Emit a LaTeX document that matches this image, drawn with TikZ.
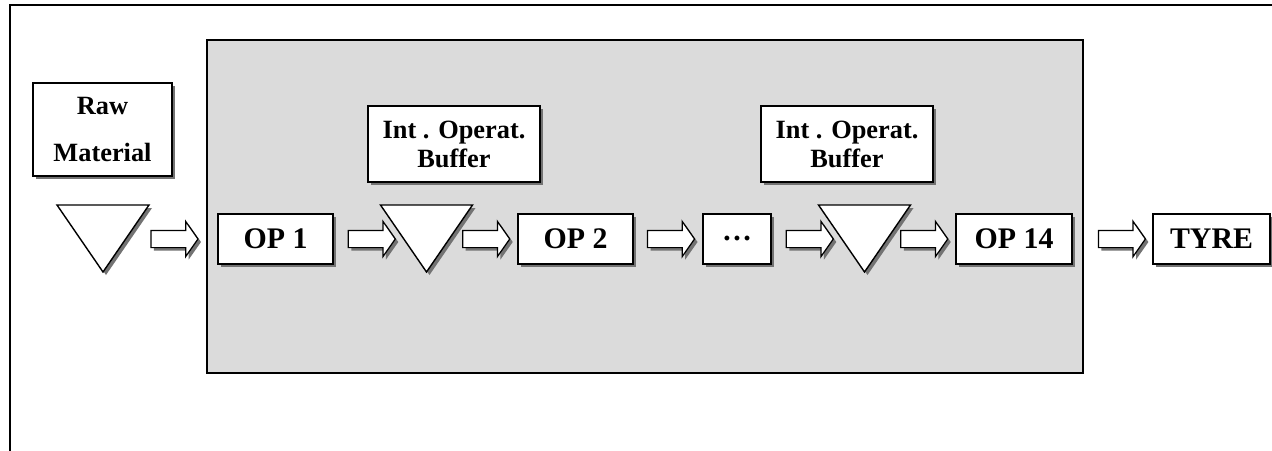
\documentclass[tikz,border=0pt]{standalone}
\usepackage{fontspec}
\setmainfont{Liberation Serif}
\usetikzlibrary{shapes.arrows}
\usetikzlibrary{shadows}

\tikzset{
  dshadow/.style={drop shadow={shadow xshift=0.06cm,shadow yshift=-0.06cm,fill=black!55,opacity=1}},
  opbox/.style={draw,fill=white,line width=0.8pt,minimum height=1cm,inner sep=0pt,font=\fontsize{17}{19}\selectfont\bfseries,dshadow},
  tagbox/.style={draw,fill=white,line width=0.8pt,align=center,inner sep=0pt,font=\fontsize{15}{16.5}\selectfont\bfseries,dshadow},
  buftri/.style={draw,fill=white,line width=0.8pt,line join=miter,dshadow},
  flow/.style={single arrow,draw,fill=white,line width=0.7pt,minimum height=0.94cm,inner xsep=0pt,inner ysep=0.16cm,
    single arrow head extend=0.18cm,single arrow tip angle=110,dshadow}
}

\begin{document}
\begin{tikzpicture}
\useasboundingbox (0,0) rectangle (25.44,9);
\fill[white] (0,0) rectangle (25.44,9);
\draw[line width=0.6pt] (0.2,-0.2) -- (0.2,8.9) -- (25.7,8.9);
\draw[fill=black!14,line width=0.9pt] (4.14,1.54) rectangle (21.66,8.2);

\node[tagbox,minimum width=2.78cm,minimum height=1.86cm,font=\fontsize{15}{26.6}\selectfont\bfseries] (raw) at (2.05,6.41) {Raw\\Material};
\node[tagbox,minimum width=3.44cm,minimum height=1.52cm] (buf1) at (9.08,6.12) {Int . Operat.\\Buffer};
\node[tagbox,minimum width=3.44cm,minimum height=1.52cm] (buf2) at (16.94,6.12) {Int . Operat.\\Buffer};

\draw[buftri] (1.14,4.9) -- (2.98,4.9) -- (2.06,3.56) -- cycle;
\draw[buftri] (7.61,4.9) -- (9.45,4.9) -- (8.53,3.56) -- cycle;
\draw[buftri] (16.37,4.9) -- (18.21,4.9) -- (17.29,3.56) -- cycle;
\coordinate (t1e) at (2.513,4.22);
\coordinate (t2w) at (8.077,4.22);
\coordinate (t2e) at (8.983,4.22);
\coordinate (t3w) at (16.837,4.22);
\coordinate (t3e) at (17.743,4.22);

\node[opbox,minimum width=2.3cm] (op1) at (5.51,4.22) {OP 1};
\node[opbox,minimum width=2.3cm] (op2) at (11.51,4.22) {OP 2};
\node[opbox,minimum width=1.36cm] (dots) at (14.74,4.22) {\ldots};
\node[opbox,minimum width=2.32cm] (op14) at (20.28,4.22) {OP 14};
\node[opbox,minimum width=2.34cm] (tyre) at (24.23,4.22) {TYRE};

\path (t1e) -- (op1) node[flow,midway] (a1) {};
\path (op1) -- (t2w) node[flow,midway] (a2) {};
\path (t2e) -- (op2) node[flow,midway] (a3) {};
\path (op2) -- (dots) node[flow,midway] (a4) {};
\path (dots) -- (t3w) node[flow,midway] (a5) {};
\path (t3e) -- (op14) node[flow,midway] (a6) {};
\path (op14) -- (tyre) node[flow,pos=0.58] (a7) {};

\end{tikzpicture}
\end{document}
